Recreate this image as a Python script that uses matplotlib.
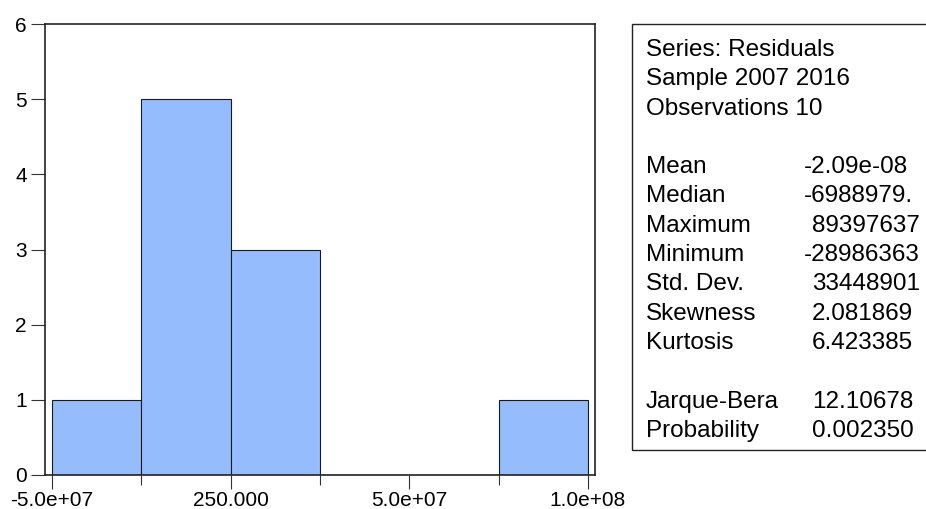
import numpy as np
import matplotlib
matplotlib.use("Agg")
import matplotlib.pyplot as plt
from matplotlib.ticker import FixedLocator

plt.rcParams['font.family'] = ['Liberation Sans', 'DejaVu Sans']

# Histogram data (bin edges and counts)
bin_edges = [-5.0e7, -2.5e7, 0.0, 2.5e7, 5.0e7, 7.5e7, 1.0e8]
counts = [1, 5, 3, 0, 0, 1]

major_ticks = [-5.0e7, 0.0, 5.0e7, 1.0e8]
major_labels = ["-5.0e+07", "250.000", "5.0e+07", "1.0e+08"]
minor_ticks = [-2.5e7, 2.5e7, 7.5e7]
y_ticks = [0, 1, 2, 3, 4, 5, 6]

stat_header = ["Series: Residuals", "Sample 2007 2016", "Observations 10"]
stat_names = ["Mean", "Median", "Maximum", "Minimum", "Std. Dev.", "Skewness", "Kurtosis"]
stat_values = ["-2.09e-08", "-6988979.", "89397637", "-28986363", "33448901", "2.081869", "6.423385"]
test_names = ["Jarque-Bera", "Probability"]
test_values = ["12.10678", "0.002350"]

W, H = 926, 509
fig = plt.figure(figsize=(W / 100, H / 100), dpi=100)
fig.patch.set_facecolor('white')

def fx(px):
    return px / W

def fy(py):
    return 1 - py / H

ax = fig.add_axes([fx(45), fy(475), fx(595) - fx(45), fy(24) - fy(475)])
ax.set_facecolor('white')

widths = np.diff(bin_edges)
ax.bar(bin_edges[:-1], counts, width=widths, align='edge', color='#95bdfd',
       edgecolor='#1a1a1a', linewidth=0.8)

ax.set_xlim(-5.2e7, 1.02e8)
ax.set_ylim(0, 6)
ax.set_xticks(major_ticks)
ax.set_xticklabels(major_labels)
ax.xaxis.set_minor_locator(FixedLocator(minor_ticks))
ax.set_yticks(y_ticks)
ax.tick_params(axis='both', which='major', labelsize=15, length=10, width=0.8, color='#333333')
ax.tick_params(axis='x', which='major', pad=1.5)
ax.tick_params(axis='y', which='major', pad=3)
ax.tick_params(axis='x', which='minor', length=7, width=0.8, color='#333333')
for s in ax.spines.values():
    s.set_linewidth(1.2)
    s.set_color('#222222')

# stats box
box = plt.Rectangle((fx(632), fy(450)), fx(940) - fx(632), fy(24) - fy(450), transform=fig.transFigure,
                    facecolor='white', edgecolor='#222222', linewidth=1.0, zorder=1)
fig.patches.append(box)

fs = 17.5
lh = 29.3
y0 = 56
for i, t in enumerate(stat_header):
    fig.text(fx(646), fy(y0 + i * lh), t, fontsize=fs, va='baseline', ha='left', zorder=2)
rows = list(zip(stat_names, stat_values)) + [(None, None)] + list(zip(test_names, test_values))
for j, (n, v) in enumerate(rows):
    if n is None:
        continue
    yy = fy(y0 + (4 + j) * lh)
    fig.text(fx(646), yy, n, fontsize=fs, va='baseline', ha='left', zorder=2)
    xv = 804 if v.startswith('-') else 812
    fig.text(fx(xv), yy, v, fontsize=fs, va='baseline', ha='left', zorder=2)

fig.savefig("out.png", dpi=100)
